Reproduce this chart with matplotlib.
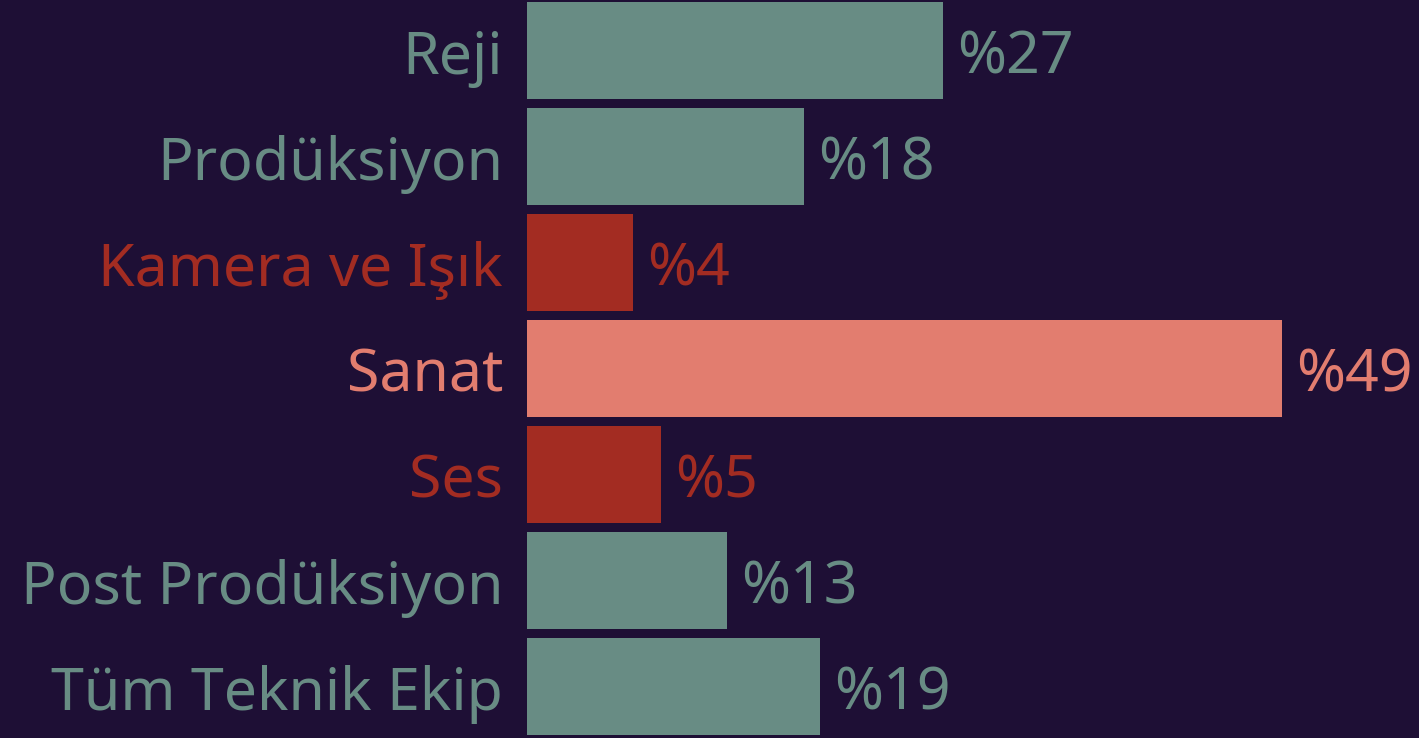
import matplotlib
matplotlib.use("Agg")
import matplotlib.pyplot as plt

# veriler
kategoriler = ["Reji", "Prodüksiyon", "Kamera ve Işık", "Sanat", "Ses",
               "Post Prodüksiyon", "Tüm Teknik Ekip"]
degerler = [27, 18, 6.9, 49, 8.7, 13, 19]   # çubuk uzunlukları (resimden)
etiketler = ["%27", "%18", "%4", "%49", "%5", "%13", "%19"]
gruplar = ["teal", "teal", "koyu", "acik", "koyu", "teal", "teal"]

renkler = {"teal": "#688c84", "koyu": "#a32c22", "acik": "#e27d6f"}
arkaplan = "#1e0f35"

plt.rcParams['font.family'] = ['Noto Sans', 'DejaVu Sans']

fig = plt.figure(figsize=(14.19, 7.38), dpi=100, facecolor=arkaplan)
ax = fig.add_axes([527 / 1419, 0, 1 - 527 / 1419, 1])
ax.set_facecolor(arkaplan)

y = list(range(len(kategoriler)))
cubuk_renk = [renkler[g] for g in gruplar]
ax.barh(y, degerler, height=0.915, color=cubuk_renk)

ax.set_xlim(0, 892 / 15.41)
ax.set_ylim(738 / 106 - 50.5 / 106, -50.5 / 106)

boyut = 42.5
for i, (d, e, r) in enumerate(zip(degerler, etiketler, cubuk_renk)):
    ax.text(d + 0.9, i + 0.22, e, color=r, fontsize=boyut, va="baseline", ha="left")
    ax.text(-1.55, i + 0.22, kategoriler[i], color=r, fontsize=boyut, va="baseline", ha="right")

ax.set_xticks([])
ax.set_yticks([])
for s in ax.spines.values():
    s.set_visible(False)

fig.savefig("out.png", dpi=100, facecolor=arkaplan)
